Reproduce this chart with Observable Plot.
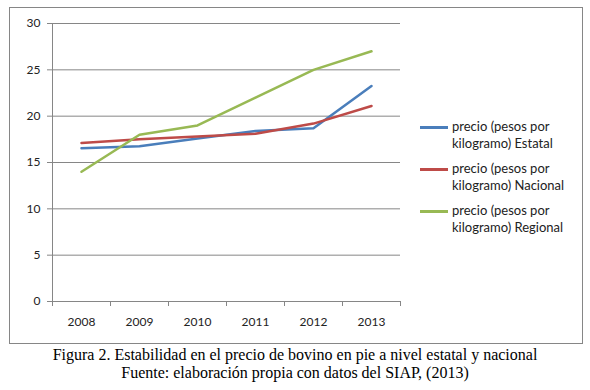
<!DOCTYPE html>
<html><head><meta charset="utf-8">
<script src="https://cdn.jsdelivr.net/npm/d3@7"></script>
<script src="https://cdn.jsdelivr.net/npm/@observablehq/plot@0.6"></script>
<style>
body{margin:0;background:#fff;}
#wrap{position:relative;width:590px;height:390px;overflow:hidden;}
#frame{position:absolute;left:9px;top:7px;width:572px;height:335px;border:1px solid #868686;box-sizing:content-box;}
#chart{position:absolute;left:0;top:0;}
#legend{position:absolute;left:420px;top:118px;font-family:Lato,sans-serif;font-size:13px;line-height:16.5px;color:#222;}
.item{display:flex;align-items:flex-start;margin-bottom:9px;}
.sw{width:28px;height:3px;margin-top:8px;margin-right:4px;flex:none;}
#cap{position:absolute;left:0;top:346px;width:590px;text-align:center;font-family:"Liberation Serif",serif;font-size:16px;line-height:18px;color:#000;}
</style></head>
<body><div id="wrap"><div id="frame"></div><div id="chart"></div><div id="legend"></div>
<div id="cap">Figura 2. Estabilidad en el precio de bovino en pie a nivel estatal y nacional<br>Fuente: elaboración propia con datos del SIAP, (2013)</div></div>
<script>
const years = [2008, 2009, 2010, 2011, 2012, 2013];
const estatal = [16.55, 16.75, 17.6, 18.4, 18.7, 23.25];
const nacional = [17.1, 17.5, 17.8, 18.1, 19.2, 21.1];
const regional = [14.0, 18.0, 19.0, 22.0, 25.0, 27.0];
const seriesNames = ["precio (pesos por kilogramo) Estatal", "precio (pesos por kilogramo) Nacional", "precio (pesos por kilogramo) Regional"];
const colors = ["#4a7ebb", "#be4b48", "#98b954"];
const yTicks = [0, 5, 10, 15, 20, 25, 30];

const seriesValues = [estatal, nacional, regional];
const data = [];
seriesValues.forEach((vals, i) => vals.forEach((v, j) => data.push({year: years[j], value: v, series: seriesNames[i]})));
const boundaries = [years[0] - 0.5, ...years.map(y => y + 0.5)];

const chart = Plot.plot({
  width: 590, height: 345,
  marginLeft: 52, marginRight: 190, marginTop: 23, marginBottom: 44,
  style: {fontFamily: "Lato, sans-serif", fontSize: "12px", color: "#222", background: "transparent"},
  x: {domain: [boundaries[0], boundaries[boundaries.length - 1]]},
  y: {domain: [0, 30]},
  color: {domain: seriesNames, range: colors},
  marks: [
    Plot.ruleY(yTicks, {stroke: "#868686", strokeWidth: 1, strokeOpacity: 1}),
    Plot.axisY({ticks: yTicks, tickSize: 5, tickPadding: 7, stroke: "#868686", label: null, fontSize: 12}),
    Plot.ruleX([boundaries[0]], {stroke: "#868686"}),
    Plot.axisX({ticks: boundaries, tickFormat: () => "", tickSize: 5, stroke: "#868686", label: null}),
    Plot.axisX({ticks: years, tickFormat: d => String(d), tickSize: 0, tickPadding: 16, label: null, fontSize: 12}),
    Plot.line(data, {x: "year", y: "value", z: "series", stroke: "series", strokeWidth: 2.5})
  ]
});
document.getElementById("chart").appendChild(chart);

const leg = document.getElementById("legend");
seriesNames.forEach((n, i) => {
  const it = document.createElement("div"); it.className = "item";
  const sw = document.createElement("div"); sw.className = "sw"; sw.style.background = colors[i];
  const tx = document.createElement("div");
  const k = n.indexOf("kilogramo");
  tx.innerHTML = n.slice(0, k).trim() + "<br>" + n.slice(k);
  it.appendChild(sw); it.appendChild(tx); leg.appendChild(it);
});
</script></body></html>
